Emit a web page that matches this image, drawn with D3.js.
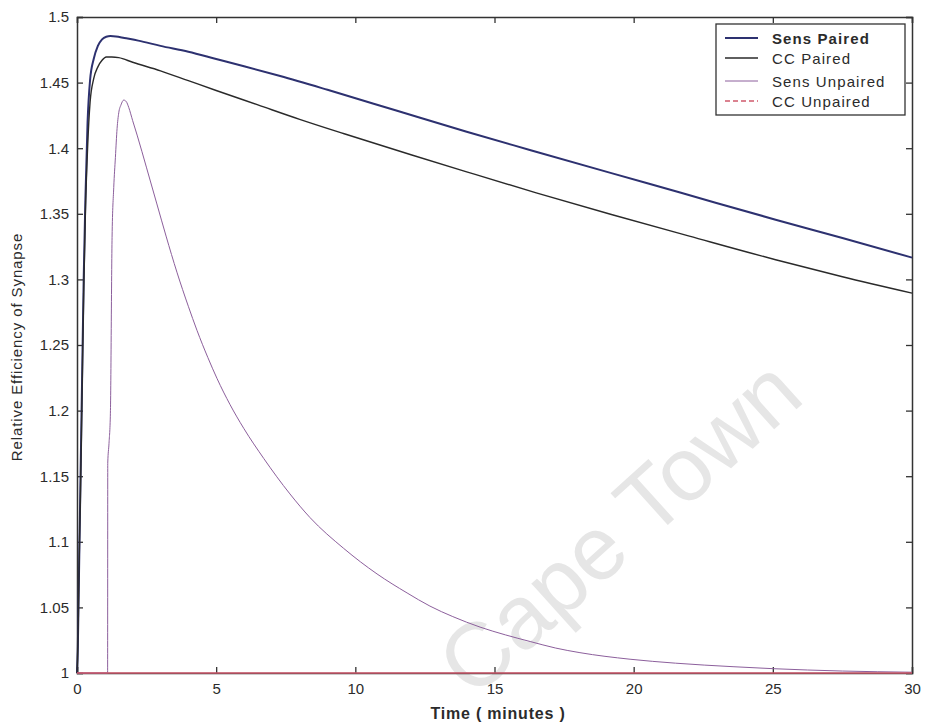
<!DOCTYPE html>
<html>
<head>
<meta charset="utf-8">
<script src="https://cdn.jsdelivr.net/npm/d3@7"></script>
<style>
  html, body { margin: 0; padding: 0; background: #ffffff; }
  svg text { font-family: "Liberation Sans", Arial, sans-serif; fill: #2b2b2b; }
</style>
</head>
<body>
<svg id="chart" width="925" height="726"></svg>
<script>
// ---------------- data ----------------
const seriesNames = ["Sens Paired", "CC Paired", "Sens Unpaired", "CC Unpaired"];

const sensPairedT = [0, 0.03, 0.06, 0.09, 0.12, 0.18, 0.24, 0.3, 0.38, 0.47, 0.6, 0.75, 0.9, 1.05, 1.2, 1.4, 1.7, 2.2, 3, 4, 5, 6, 7.3, 9, 11.5, 14, 16.3, 19.2, 21.7, 25.1, 27.5, 30];
const sensPairedV = [1.0, 1.02, 1.06, 1.10, 1.14, 1.22, 1.30, 1.36, 1.42, 1.452, 1.468, 1.478, 1.483, 1.485, 1.4855, 1.4852, 1.484, 1.482, 1.478, 1.4735, 1.468, 1.4625, 1.455, 1.4445, 1.4285, 1.4125, 1.3985, 1.381, 1.366, 1.3455, 1.3315, 1.3166];

const ccPairedT = [0, 0.03, 0.06, 0.09, 0.12, 0.18, 0.24, 0.3, 0.38, 0.47, 0.6, 0.75, 0.9, 1.05, 1.25, 1.5, 2, 3, 4, 5, 6.5, 8, 9.6, 12, 14, 16.5, 19.2, 22, 25.1, 27.5, 30];
const ccPairedV = [1.0, 1.02, 1.06, 1.10, 1.13, 1.21, 1.29, 1.35, 1.40, 1.435, 1.453, 1.462, 1.467, 1.4695, 1.4695, 1.469, 1.4655, 1.459, 1.4515, 1.444, 1.433, 1.422, 1.411, 1.395, 1.382, 1.366, 1.3495, 1.333, 1.315, 1.302, 1.2895];

const sensUnpairedT = [0, 1.1, 1.105, 1.15, 1.2, 1.26, 1.32, 1.38, 1.44, 1.5, 1.58, 1.68, 1.77, 1.86, 2.0, 2.16, 2.5, 2.87, 3.2, 3.59, 4.0, 4.31, 4.7, 5.03, 5.5, 5.99, 6.71, 7.65, 8.37, 9.58, 10.78, 11.86, 12.68, 13.5, 14.48, 15.4, 16.28, 17.2, 18.07, 19.87, 21.5, 23.57, 25, 27.5, 30];
const sensUnpairedV = [1.0, 1.0, 1.16, 1.175, 1.198, 1.332, 1.37, 1.393, 1.415, 1.427, 1.433, 1.4367, 1.4355, 1.431, 1.421, 1.410, 1.385, 1.3575, 1.333, 1.3055, 1.2795, 1.2612, 1.2405, 1.2245, 1.2045, 1.1865, 1.1635, 1.1365, 1.1185, 1.095, 1.0755, 1.061, 1.051, 1.043, 1.035, 1.029, 1.024, 1.019, 1.0155, 1.0105, 1.0075, 1.0048, 1.0033, 1.0015, 1.0006];

const ccUnpairedT = [0, 5, 10, 15, 20, 25, 30];
const ccUnpairedV = [1, 1, 1, 1, 1, 1, 1];

const xTicks = [0, 5, 10, 15, 20, 25, 30];
const yTicks = [1, 1.05, 1.1, 1.15, 1.2, 1.25, 1.3, 1.35, 1.4, 1.45, 1.5];
const yTickLabels = ["1", "1.05", "1.1", "1.15", "1.2", "1.25", "1.3", "1.35", "1.4", "1.45", "1.5"];
const xLabel = "Time ( minutes )";
const yLabel = "Relative Efficiency of Synapse";
const watermark = "Cape Town";

// ---------------- chart ----------------
const svg = d3.select("#chart");
const L = 77, R = 912, T = 17, B = 673;
const x = d3.scaleLinear().domain([0, 30]).range([L, R]);
const y = d3.scaleLinear().domain([1, 1.5]).range([B, T]);

svg.append("rect").attr("x", 0).attr("y", 0).attr("width", 925).attr("height", 726).attr("fill", "#fff");

// watermark (behind data)
svg.append("text")
  .attr("transform", "translate(640,550) rotate(-42)")
  .attr("text-anchor", "middle")
  .style("font-size", "90px")
  .style("fill", "#e6e6e6")
  .text(watermark);

const styles = [
  { color: "#2d3170", width: 2.0 },
  { color: "#2a2a2a", width: 1.4 },
  { color: "#8c5f9c", width: 1.0 },
  { color: "#cf5a6c", width: 1.6 }
];
const series = [
  { t: sensPairedT, v: sensPairedV },
  { t: ccPairedT, v: ccPairedV },
  { t: sensUnpairedT, v: sensUnpairedV },
  { t: ccUnpairedT, v: ccUnpairedV }
];

// axes box with inward ticks (MATLAB style)
const axisColor = "#333";
const gx = svg.append("g").attr("transform", `translate(0,${B})`)
  .call(d3.axisBottom(x).tickValues(xTicks).tickSize(-6).tickPadding(10).tickFormat(d3.format("d")));
const gxTop = svg.append("g").attr("transform", `translate(0,${T})`)
  .call(d3.axisTop(x).tickValues(xTicks).tickSize(-6).tickFormat(""));
const gy = svg.append("g").attr("transform", `translate(${L},0)`)
  .call(d3.axisLeft(y).tickValues(yTicks).tickSize(-6).tickPadding(8).tickFormat((d, i) => yTickLabels[i]));
const gyR = svg.append("g").attr("transform", `translate(${R},0)`)
  .call(d3.axisRight(y).tickValues(yTicks).tickSize(-6).tickFormat(""));
[gx, gxTop, gy, gyR].forEach(g => {
  g.select(".domain").attr("stroke", axisColor).attr("stroke-width", 1.5);
  g.selectAll(".tick line").attr("stroke", axisColor).attr("stroke-width", 1.3);
  g.selectAll(".tick text").style("font-size", "15px").style("fill", "#2b2b2b");
});
gx.selectAll(".tick text").attr("dy", "0.71em");

// data lines
const line = d3.line().x(d => x(d[0])).y(d => y(d[1])).curve(d3.curveMonotoneX);
series.forEach((s, i) => {
  const pts = s.t.map((t, k) => [t, s.v[k]]);
  svg.append("path")
    .datum(pts)
    .attr("d", line)
    .attr("fill", "none")
    .attr("stroke", styles[i].color)
    .attr("stroke-width", styles[i].width)
    .attr("stroke-linejoin", "round");
});

// legend
const lg = svg.append("g");
lg.append("rect").attr("x", 716).attr("y", 24).attr("width", 189).attr("height", 91)
  .attr("fill", "#fff").attr("stroke", "#333").attr("stroke-width", 1.3);
const rowY = [38, 58, 81, 101];
const legendDash = [null, null, null, "5,3"];
seriesNames.forEach((name, i) => {
  lg.append("line").attr("x1", 725).attr("x2", 758).attr("y1", rowY[i]).attr("y2", rowY[i])
    .attr("stroke", styles[i].color).attr("stroke-width", styles[i].width)
    .attr("stroke-dasharray", legendDash[i]);
  lg.append("text").attr("x", 772).attr("y", rowY[i] + 5.5)
    .style("font-size", "15px").style("letter-spacing", "1.1px")
    .style("font-weight", i === 0 ? "bold" : "normal")
    .text(name);
});

// axis labels
svg.append("text").attr("x", 498).attr("y", 719).attr("text-anchor", "middle")
  .style("font-size", "16px").style("font-weight", "bold").style("letter-spacing", "0.8px")
  .text(xLabel);
svg.append("text").attr("transform", "translate(22,347) rotate(-90)").attr("text-anchor", "middle")
  .style("font-size", "15px").style("letter-spacing", "0.9px")
  .text(yLabel);
</script>
</body>
</html>
